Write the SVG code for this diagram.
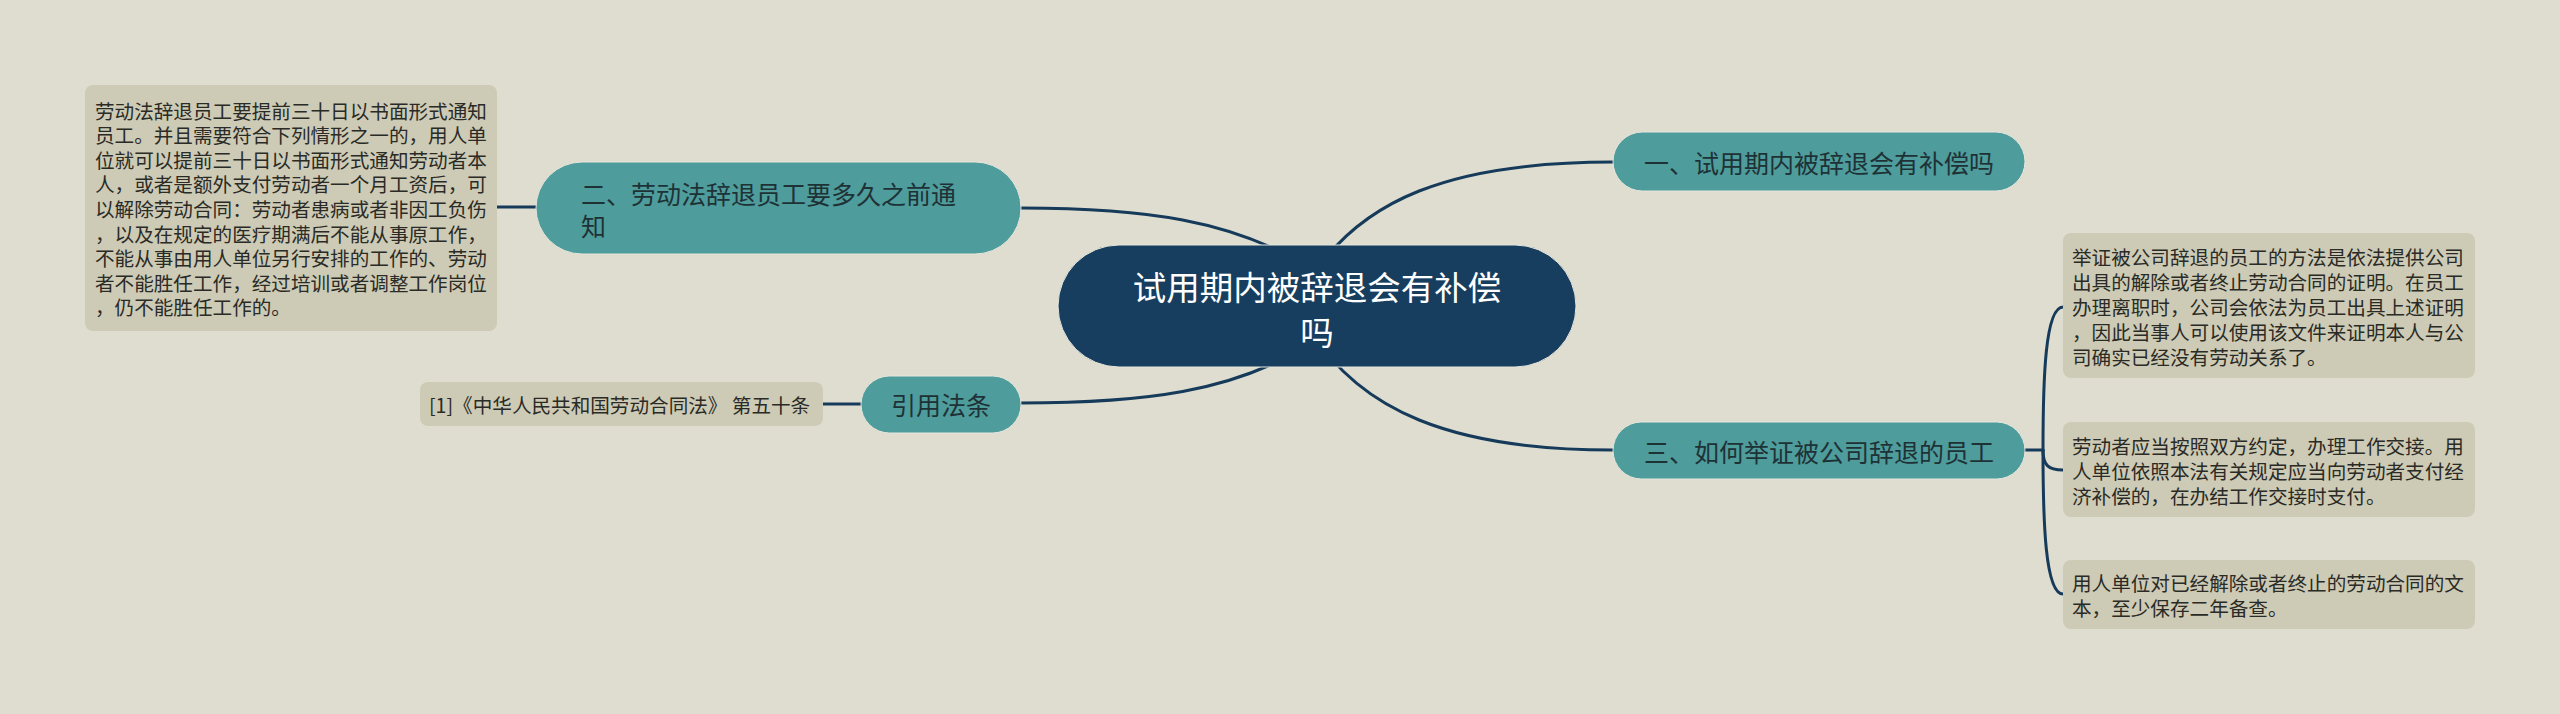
<svg xmlns="http://www.w3.org/2000/svg" width="2560" height="714" viewBox="0 0 2560 714">
<style>
.bg{fill:#dfddd0}
.leaf{fill:#cdcbb5}
.topic{fill:#4e9c9c;stroke:#e6e6dc;stroke-width:1}
.root{fill:#173e5e;stroke:#e6e6dc;stroke-width:1}
.conn{fill:none;stroke:#163a5a;stroke-width:3;stroke-linecap:round}
text{font-family:"Noto Sans CJK SC","Noto Sans",sans-serif;dominant-baseline:central}
.lt{font-size:19.6px;fill:#2a2a26}
.tt{font-size:25px;fill:#1e3236}
.rt{font-size:33.5px;fill:#ffffff}
</style>
<rect class="bg" x="0" y="0" width="2560" height="714"/>
<g id="connectors">
<path class="conn" d="M1021 208 C1150 208 1230 222 1300 262"/>
<path class="conn" d="M1021 403 C1150 403 1230 390 1300 350"/>
<path class="conn" d="M1310 280 C1360 200 1450 162 1613 162"/>
<path class="conn" d="M1310 330 C1360 410 1450 450 1613 450"/>
<path class="conn" d="M497 207 L536 207"/>
<path class="conn" d="M823 404 L861 404"/>
<path class="conn" d="M2025 450 L2043 450"/>
<path class="conn" d="M2043 450 C2043 380 2045 307 2063 307"/>
<path class="conn" d="M2043 450 C2043 465 2048 470 2063 470"/>
<path class="conn" d="M2043 450 C2043 520 2045 594 2063 594"/>
</g>
<g id="root">
<rect class="root" x="1058" y="245" width="518" height="122" rx="61"/>
<text class="rt" x="1317" y="285" text-anchor="middle">试用期内被辞退会有补偿</text>
<text class="rt" x="1317" y="330" text-anchor="middle">吗</text>
</g>
<g id="topic2">
<rect class="topic" x="536" y="162" width="485" height="92" rx="46"/>
<text class="tt" x="581" y="193">二、劳动法辞退员工要多久之前通</text>
<text class="tt" x="581" y="225">知</text>
</g>
<g id="leaf2">
<rect class="leaf" x="85" y="85" width="412" height="246" rx="8"/>
<text class="lt" x="95" y="110">劳动法辞退员工要提前三十日以书面形式通知</text>
<text class="lt" x="95" y="134.6">员工。并且需要符合下列情形之一的，用人单</text>
<text class="lt" x="95" y="159.2">位就可以提前三十日以书面形式通知劳动者本</text>
<text class="lt" x="95" y="183.8">人，或者是额外支付劳动者一个月工资后，可</text>
<text class="lt" x="95" y="208.4">以解除劳动合同：劳动者患病或者非因工负伤</text>
<text class="lt" x="95" y="233">，以及在规定的医疗期满后不能从事原工作，</text>
<text class="lt" x="95" y="257.6">不能从事由用人单位另行安排的工作的、劳动</text>
<text class="lt" x="95" y="282.2">者不能胜任工作，经过培训或者调整工作岗位</text>
<text class="lt" x="95" y="306.8">，仍不能胜任工作的。</text>
</g>
<g id="topicLaw">
<rect class="topic" x="861" y="376" width="160" height="57" rx="28.5"/>
<text class="tt" x="941" y="404" text-anchor="middle">引用法条</text>
</g>
<g id="leafLaw">
<rect class="leaf" x="420" y="382" width="403" height="44" rx="8"/>
<text class="lt" x="429" y="404">[1]《中华人民共和国劳动合同法》 第五十条</text>
</g>
<g id="topic1">
<rect class="topic" x="1613" y="132" width="412" height="59" rx="29.5"/>
<text class="tt" x="1819" y="162" text-anchor="middle">一、试用期内被辞退会有补偿吗</text>
</g>
<g id="topic3">
<rect class="topic" x="1613" y="422" width="412" height="57" rx="28.5"/>
<text class="tt" x="1819" y="451" text-anchor="middle">三、如何举证被公司辞退的员工</text>
</g>
<g id="leaf3a">
<rect class="leaf" x="2063" y="233" width="412" height="145" rx="8"/>
<text class="lt" x="2072" y="256">举证被公司辞退的员工的方法是依法提供公司</text>
<text class="lt" x="2072" y="281">出具的解除或者终止劳动合同的证明。在员工</text>
<text class="lt" x="2072" y="306">办理离职时，公司会依法为员工出具上述证明</text>
<text class="lt" x="2072" y="331">，因此当事人可以使用该文件来证明本人与公</text>
<text class="lt" x="2072" y="356">司确实已经没有劳动关系了。</text>
</g>
<g id="leaf3b">
<rect class="leaf" x="2063" y="422" width="412" height="95" rx="8"/>
<text class="lt" x="2072" y="445">劳动者应当按照双方约定，办理工作交接。用</text>
<text class="lt" x="2072" y="470">人单位依照本法有关规定应当向劳动者支付经</text>
<text class="lt" x="2072" y="495">济补偿的，在办结工作交接时支付。</text>
</g>
<g id="leaf3c">
<rect class="leaf" x="2063" y="560" width="412" height="69" rx="8"/>
<text class="lt" x="2072" y="582">用人单位对已经解除或者终止的劳动合同的文</text>
<text class="lt" x="2072" y="607">本，至少保存二年备查。</text>
</g>
</svg>
